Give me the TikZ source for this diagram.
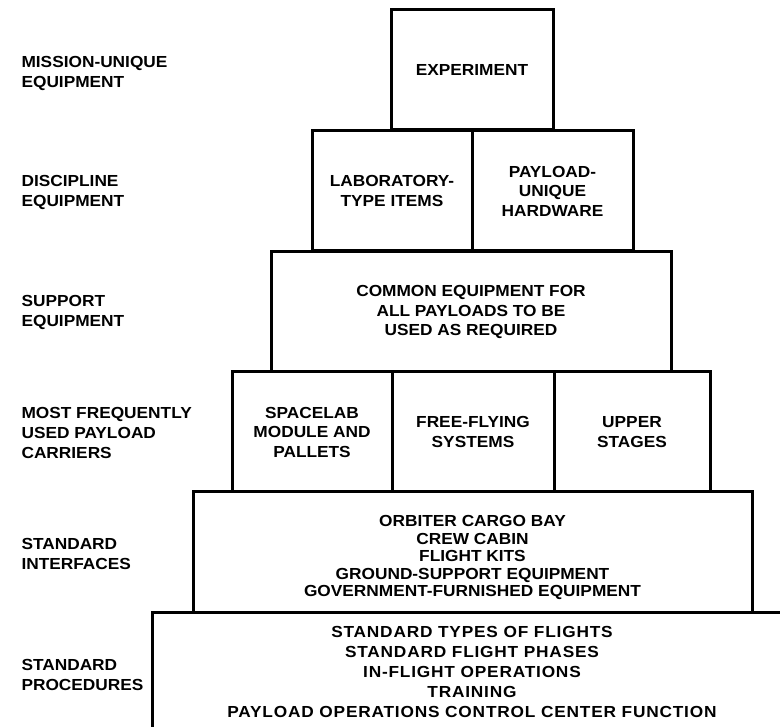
\documentclass[tikz,border=0pt]{standalone}
\usepackage{fontspec}
\setmainfont{Liberation Sans}[FakeStretch=1.08]
\newcommand{\policecase}{\fontsize{16}{19.5}\selectfont\bfseries}
\newcommand{\policelong}{\fontsize{16}{17.5}\selectfont\bfseries}
\newcommand{\policebas}{\fontsize{16}{20}\selectfont\bfseries\addfontfeature{LetterSpace=5}}
\newcommand{\policeniv}{\fontsize{16}{20}\selectfont\bfseries}
\newcommand{\libniv}[3]{\node[niveau] (#1) at (18,#2) {#3};}
\tikzset{
		basic/.style={draw, line width=3pt, inner sep=0pt, align=center, minimum height=120pt, font=\policecase},
		case/.style={basic},
		grande/.style={basic, font=\policelong},
		niveau/.style={anchor=west, align=left, font=\policeniv}
	}
\begin{document}
\begin{tikzpicture}[x=1pt, y=-1pt]
		\useasboundingbox (0,0) rectangle (780,727);
		\clip (0,0) rectangle (780,727);
		% niveaux
		\libniv{missuniq}{73}{MISSION-UNIQUE\\EQUIPMENT}
		\libniv{discequi}{192}{DISCIPLINE\\EQUIPMENT}
		\libniv{suppequi}{312}{SUPPORT\\EQUIPMENT}
		\libniv{mostfreq}{433}{MOST FREQUENTLY\\USED PAYLOAD\\CARRIERS}
		\libniv{stndintf}{554}{STANDARD\\INTERFACES}
		\libniv{stndproc}{675}{STANDARD\\PROCEDURES}
		
		% pyramide
		% 1re ligne
		\node[case, minimum width=162pt] (experime) at (472,70) {EXPERIMENT};
		% 2me ligne
		\node[case, minimum width=160pt] (laboitem) at (392,191) {LABORATORY-\\TYPE ITEMS};
		\node[case, minimum width=161pt] (paylhard) at (552.5,191) {PAYLOAD-\\UNIQUE\\HARDWARE};
		% 3me ligne
		\node[case, minimum width=400pt] (commequi) at (471,312) {COMMON EQUIPMENT FOR\\ALL PAYLOADS TO BE\\USED AS REQUIRED};
		% 4me ligne
		\node[case, minimum width=160pt] (spacmodu) at (312,432) {SPACELAB\\MODULE AND\\PALLETS};
		\node[case, minimum width=162pt] (freeflyi) at (473,432) {FREE-FLYING\\SYSTEMS};
		\node[case, minimum width=156pt] (uppestag) at (632,432) {UPPER\\STAGES};
		% 5me ligne
		\node[grande, minimum width=559pt, text height=93pt] (orbicarg) at (472.5,552) {ORBITER CARGO BAY\\CREW CABIN\\FLIGHT KITS\\GROUND-SUPPORT EQUIPMENT\\GOVERNMENT-FURNISHED EQUIPMENT};
		% 6me ligne
		\node[basic, font=\policebas, minimum width=640pt] (stndflig) at (472,672) {STANDARD TYPES OF FLIGHTS\\STANDARD FLIGHT PHASES\\IN-FLIGHT OPERATIONS\\TRAINING\\PAYLOAD OPERATIONS CONTROL CENTER FUNCTION};
	\end{tikzpicture}
\end{document}
